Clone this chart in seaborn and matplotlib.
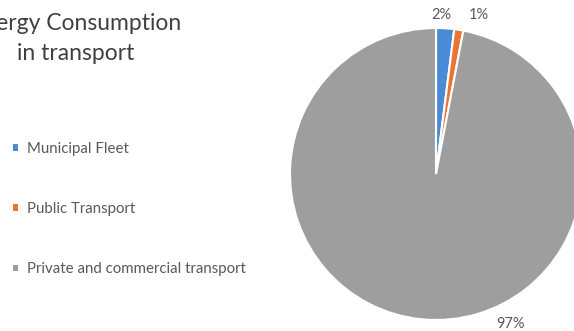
import matplotlib
matplotlib.use("Agg")
import matplotlib.pyplot as plt
import seaborn as sns

# Share of energy consumption in transport
categories = ["Municipal Fleet", "Public Transport", "Private and commercial transport"]
shares = [2, 1, 97]
share_labels = ["2%", "1%", "97%"]
colors = ["#4A8BD6", "#EB7432", "#9E9E9E"]

sns.set_theme(style="white")
plt.rcParams["font.family"] = ["Lato", "DejaVu Sans"]

W, H = 574, 331
fig = plt.figure(figsize=(W / 100, H / 100), dpi=100)
fig.patch.set_facecolor("white")

# Pie axes: centre (436, 174), radius 146 px
cx, cy, r = 436, 174, 146
ax = fig.add_axes([(cx - r) / W, (H - cy - r) / H, 2 * r / W, 2 * r / H])
wedges, _ = ax.pie(
    shares,
    colors=colors,
    startangle=90,
    counterclock=False,
    wedgeprops=dict(edgecolor="white", linewidth=1.5),
)
ax.set_xlim(-1, 1)
ax.set_ylim(-1, 1)
ax.set_aspect("equal")
ax.axis("off")

# Percentage labels
label_pos = [(0.04, 1.09), (0.29, 1.09), (0.51, -1.03)]
for txt, (lx, ly) in zip(share_labels, label_pos):
    ax.text(lx, ly, txt, ha="center", va="center", fontsize=10.5,
            color="#595959", clip_on=False)

# Title (left part)
fig.text(76 / W, 1 - 23 / H, "Energy Consumption", ha="center", va="center",
         fontsize=16.5, color="#404040")
fig.text(76 / W, 1 - 54 / H, "in transport", ha="center", va="center",
         fontsize=16.5, color="#404040")

# Legend
leg = fig.legend(
    wedges, categories,
    loc="upper left", bbox_to_anchor=(13 / W, 1 - 142 / H),
    frameon=False, fontsize=10.8, labelcolor="#595959",
    handlelength=0.32, handleheight=0.32, handletextpad=0.6,
    labelspacing=3.08, borderaxespad=0, borderpad=0.0,
)
for h in leg.legend_handles:
    h.set_edgecolor("none")

fig.savefig("out.png", dpi=100, facecolor="white")
